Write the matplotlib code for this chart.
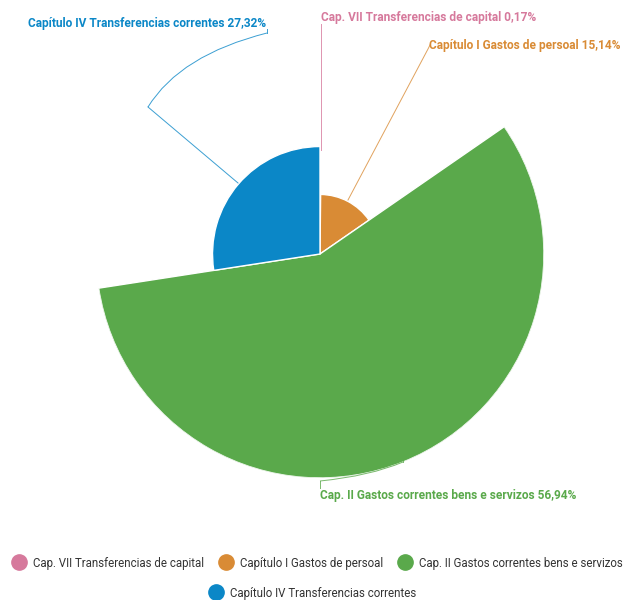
import numpy as np
import matplotlib.pyplot as plt
from matplotlib.lines import Line2D
from matplotlib.path import Path
from matplotlib.patches import PathPatch

labels = ['Cap. VII Transferencias de capital', 'Capítulo I Gastos de persoal',
          'Cap. II Gastos correntes bens e servizos', 'Capítulo IV Transferencias correntes']
values = [0.17, 15.14, 56.94, 27.32]
pct_text = ['0,17%', '15,14%', '56,94%', '27,32%']
colors = ['#d6799c', '#d98b35', '#5aa94b', '#0b87c7']

W, H = 625, 600
fig = plt.figure(figsize=(W / 100, H / 100), dpi=100)

# pie: centre (320,254) px, outer radius 224 px
cx, cy, R = 320, 254, 224
pax = fig.add_axes([(cx - R) / W, 1 - (cy + R) / H, 2 * R / W, 2 * R / H], projection='polar')
pax.set_theta_zero_location('N')
pax.set_theta_direction(-1)
v = np.array(values)
widths = 2 * np.pi * v / v.sum()
starts = np.concatenate([[0], np.cumsum(widths)[:-1]])
pax.bar(starts, v, width=widths, align='edge', color=colors, edgecolor='white', linewidth=1)
pax.set_ylim(0, v.max())
pax.axis('off')

# overlay in pixel coords for labels / connectors
ov = fig.add_axes([0, 0, 1, 1])
ov.set_xlim(0, W)
ov.set_ylim(H, 0)
ov.axis('off')

fkw = dict(fontsize=8.6, fontweight='bold', family='Roboto', va='center')
ckw = dict(lw=0.7, alpha=0.8)

def curve(pts, col):
    codes = [Path.MOVETO] + [Path.CURVE3] * (len(pts) - 1)
    ov.add_patch(PathPatch(Path(pts, codes), fill=False, edgecolor=col, **ckw))

# Capítulo IV
ov.text(28, 24, labels[3] + ' ' + pct_text[3], color=colors[3], ha='left', **fkw)
ov.plot([238, 148], [183, 107], color=colors[3], **ckw)
curve([(148, 107), (180, 55), (267, 33)], colors[3])
ov.plot([267, 267], [33, 29], color=colors[3], **ckw)

# Cap. VII
ov.text(321, 17, labels[0] + ' ' + pct_text[0], color=colors[0], ha='left', **fkw)
ov.plot([321, 321], [24, 150], color=colors[0], **ckw)

# Capítulo I
ov.text(429, 45, labels[1] + ' ' + pct_text[1], color=colors[1], ha='left', **fkw)
ov.plot([348, 428, 430], [200, 49, 45], color=colors[1], **ckw)

# Cap. II
ov.text(320, 495, labels[2] + ' ' + pct_text[2], color=colors[2], ha='left', **fkw)
ov.plot([403, 403], [457, 462], color=colors[2], **ckw)
curve([(403, 462), (370, 476), (320, 481)], colors[2])
ov.plot([320, 320], [481, 488], color=colors[2], **ckw)

# legend
handles = [Line2D([], [], marker='o', linestyle='none', markersize=11,
                  markerfacecolor=c, markeredgecolor=c) for c in colors]
lkw = dict(frameon=False, prop={'family': 'Roboto', 'size': 8.3}, labelcolor='#333333',
           handletextpad=0.6, columnspacing=1.3, handlelength=1.2)
fig.legend(handles[:3], labels[:3], ncol=3, loc='center', bbox_to_anchor=(0.508, 1 - 563 / H), **lkw)
fig.legend(handles[3:], labels[3:], ncol=1, loc='center', bbox_to_anchor=(0.5, 1 - 593 / H), **lkw)

fig.savefig('out.png', dpi=100, facecolor='white')
